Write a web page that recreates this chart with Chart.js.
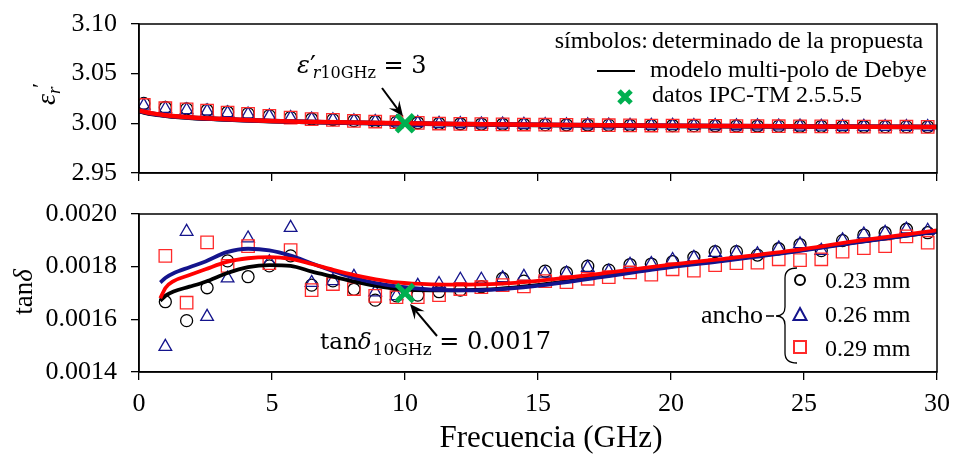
<!DOCTYPE html>
<html><head><meta charset="utf-8">
<script src="https://cdn.jsdelivr.net/npm/chart.js@4.4.0/dist/chart.umd.min.js"></script>
<style>
html,body{margin:0;padding:0;background:#fff;overflow:hidden;}
#wrap{position:relative;width:954px;height:454px;background:#fff;}
canvas{position:absolute;left:0;}
#c1{top:0;}
#c2{top:190px;}
</style></head><body>
<div id="wrap"><canvas id="c1" width="954" height="200"></canvas><canvas id="c2" width="954" height="264"></canvas></div>
<script>
// ---------- data ----------
const xTicks = [0, 5, 10, 15, 20, 25, 30];
const yTicksEps = [2.95, 3.00, 3.05, 3.10];
const yTicksTan = [0.0014, 0.0016, 0.0018, 0.0020];
const xTitle = 'Frecuencia (GHz)';

const freqSym = [0.18, 0.99, 1.79, 2.56, 3.33, 4.10, 4.90, 5.70, 6.49, 7.29, 8.08, 8.88, 9.68, 10.48, 11.28, 12.08, 12.87, 13.67, 14.47, 15.27, 16.07, 16.87, 17.66, 18.46, 19.26, 20.06, 20.86, 21.66, 22.46, 23.25, 24.05, 24.85, 25.65, 26.45, 27.25, 28.05, 28.85, 29.65];

const epsCircle = [3.0200, 3.0160, 3.0146, 3.0132, 3.0112, 3.0098, 3.0078, 3.0060, 3.0044, 3.0037, 3.0027, 3.0019, 3.0012, 3.0006, 2.9999, 2.9996, 2.9993, 2.9991, 2.9989, 2.9987, 2.9985, 2.9983, 2.9982, 2.9980, 2.9979, 2.9978, 2.9977, 2.9976, 2.9974, 2.9973, 2.9972, 2.9971, 2.9970, 2.9969, 2.9968, 2.9967, 2.9967, 2.9966];
const epsTriangle = [3.0180, 3.0146, 3.0134, 3.0122, 3.0103, 3.0091, 3.0072, 3.0055, 3.0040, 3.0033, 3.0023, 3.0016, 3.0009, 3.0004, 2.9997, 2.9994, 2.9991, 2.9989, 2.9987, 2.9985, 2.9983, 2.9981, 2.9980, 2.9978, 2.9977, 2.9976, 2.9975, 2.9974, 2.9972, 2.9971, 2.9970, 2.9969, 2.9968, 2.9967, 2.9966, 2.9965, 2.9965, 2.9964];
const epsSquare = [3.0185, 3.0152, 3.0140, 3.0128, 3.0108, 3.0095, 3.0075, 3.0058, 3.0042, 3.0035, 3.0025, 3.0018, 3.0011, 3.0005, 2.9998, 2.9995, 2.9992, 2.9990, 2.9988, 2.9986, 2.9984, 2.9982, 2.9981, 2.9979, 2.9978, 2.9977, 2.9976, 2.9975, 2.9973, 2.9972, 2.9971, 2.9970, 2.9969, 2.9968, 2.9967, 2.9966, 2.9966, 2.9965];

const tanCircle = [null, 0.001667, 0.001595, 0.001720, 0.001822, 0.001762, 0.001803, 0.001841, 0.001730, 0.001746, 0.001714, 0.001673, 0.001689, 0.001692, 0.001705, 0.001711, 0.001724, 0.001755, 0.001745, 0.001783, 0.001777, 0.001802, 0.001787, 0.001808, 0.001810, 0.001819, 0.001836, 0.001857, 0.001857, 0.001844, 0.001868, 0.001884, 0.001861, 0.001899, 0.001920, 0.001929, 0.001942, 0.001929];
const tanTriangle = [null, 0.001496, 0.001933, 0.001610, 0.001756, 0.001908, 0.001817, 0.001948, 0.001739, 0.001746, 0.001762, 0.001703, 0.001689, 0.001728, 0.001735, 0.001751, 0.001751, 0.001757, 0.001762, 0.001774, 0.001775, 0.001796, 0.001782, 0.001808, 0.001811, 0.001826, 0.001834, 0.001853, 0.001853, 0.001848, 0.001870, 0.001886, 0.001861, 0.001901, 0.001923, 0.001929, 0.001942, 0.001937];
const tanSquare = [null, 0.001841, 0.001663, 0.001892, 0.001803, 0.001878, 0.001813, 0.001863, 0.001711, 0.001734, 0.001715, 0.001689, 0.001684, 0.001684, 0.001692, 0.001715, 0.001722, 0.001730, 0.001725, 0.001745, 0.001741, 0.001754, 0.001760, 0.001778, 0.001770, 0.001790, 0.001785, 0.001806, 0.001813, 0.001815, 0.001828, 0.001825, 0.001828, 0.001857, 0.001870, 0.001878, 0.001915, 0.001891];

const freqModelEps = [0, 0.5, 1, 1.5, 2, 3, 4, 5, 6, 8, 10, 12, 15, 20, 25, 30];
const epsModel023 = [3.0122, 3.0094, 3.0077, 3.0064, 3.0054, 3.0042, 3.0031, 3.0022, 3.0015, 3.0006, 2.9999, 2.9992, 2.9984, 2.9974, 2.9968, 2.9963];
const epsModel026 = [3.0125, 3.0096, 3.0079, 3.0066, 3.0056, 3.0043, 3.0032, 3.0023, 3.0016, 3.0007, 2.9999, 2.9993, 2.9985, 2.9975, 2.9969, 2.9964];
const epsModel029 = [3.0130, 3.0100, 3.0082, 3.0068, 3.0058, 3.0045, 3.0033, 3.0024, 3.0017, 3.0008, 3.0000, 2.9993, 2.9985, 2.9975, 2.9969, 2.9964];

const freqModelTan = [0.8, 1.0, 1.3, 1.9, 2.5, 3.3, 4.1, 4.9, 5.7, 6.5, 7.3, 8.1, 8.9, 9.7, 11.0, 12.3, 13.5, 14.8, 16.0, 17.3, 18.6, 20.0, 22.0, 24.6, 27.0, 30.0];
const tanModel023 = [0.001670, 0.001690, 0.001706, 0.001724, 0.001743, 0.001775, 0.001798, 0.001806, 0.001803, 0.001781, 0.001762, 0.001743, 0.001727, 0.001716, 0.001710, 0.001711, 0.001716, 0.001728, 0.001743, 0.001762, 0.001781, 0.001801, 0.001825, 0.001858, 0.001893, 0.001933];
const tanModel026 = [0.001740, 0.001758, 0.001775, 0.001798, 0.001820, 0.001855, 0.001868, 0.001862, 0.001842, 0.001812, 0.001783, 0.001757, 0.001738, 0.001725, 0.001713, 0.001710, 0.001714, 0.001725, 0.001740, 0.001759, 0.001778, 0.001798, 0.001822, 0.001856, 0.001892, 0.001933];
const tanModel029 = [0.001680, 0.001720, 0.001745, 0.001768, 0.001790, 0.001818, 0.001832, 0.001836, 0.001830, 0.001810, 0.001788, 0.001768, 0.001752, 0.001740, 0.001733, 0.001732, 0.001735, 0.001744, 0.001757, 0.001773, 0.001790, 0.001808, 0.001830, 0.001862, 0.001898, 0.001938];

const ipcFreq = [10];
const ipcEps = [3.00];
const ipcTan = [0.0017];

const widthLabels = ['0.23 mm', '0.26 mm', '0.29 mm'];

// ---------- styles ----------
const SERIF = "'Liberation Serif', 'Times New Roman', serif";
const MATH = "'DejaVu Serif', serif";
const C_BLACK = '#000000', C_BLUE = '#14148c', C_RED = '#ff0000', C_SQ = '#ff2a2a', C_GREEN = '#00b050';

const pts = (xs, ys) => xs.map((x, i) => ({x: x, y: ys[i]})).filter(p => p.y !== null);

Chart.defaults.devicePixelRatio = 1;
Chart.defaults.animation = false;
Chart.defaults.font.family = SERIF;
Chart.defaults.color = '#000';

function symbolSets(ysC, ysT, ysS) {
  return [
    {type: 'scatter', data: pts(freqSym, ysS), pointStyle: 'rect', pointRadius: 8.8, borderColor: C_SQ, backgroundColor: 'rgba(0,0,0,0)', borderWidth: 1.3, showLine: false},
    {type: 'scatter', data: pts(freqSym, ysT), pointStyle: 'triangle', pointRadius: 7.3, borderColor: C_BLUE, backgroundColor: 'rgba(0,0,0,0)', borderWidth: 1.3, showLine: false},
    {type: 'scatter', data: pts(freqSym, ysC), pointStyle: 'circle', pointRadius: 6, borderColor: C_BLACK, backgroundColor: 'rgba(0,0,0,0)', borderWidth: 1.3, showLine: false}
  ];
}
function lineSet(xs, ys, color, w) {
  return {type: 'line', data: pts(xs, ys), borderColor: color, borderWidth: w, pointRadius: 0, fill: false, cubicInterpolationMode: 'monotone'};
}
function ipcSet(ys) {
  return {type: 'scatter', data: pts(ipcFreq, ys), pointStyle: 'crossRot', pointRadius: 12, borderColor: C_GREEN, backgroundColor: C_GREEN, borderWidth: 5, showLine: false};
}

function xScale(showLabels, h) {
  return {
    type: 'linear', min: 0, max: 30,
    afterBuildTicks: s => { s.ticks = xTicks.map(v => ({value: v})); },
    ticks: {display: showLabels, font: {size: 26, family: SERIF}, color: '#000', padding: 9, maxRotation: 0, callback: v => String(v)},
    grid: {display: true, drawOnChartArea: false, drawTicks: true, tickLength: 8, color: '#000', lineWidth: 1.3},
    border: {display: true, color: '#000', width: 1.5},
    title: {display: false},
    afterFit: s => { s.height = h; s.paddingLeft = 0; s.paddingRight = 0; }
  };
}
function yScale(min, max, tickArr, digits) {
  return {
    type: 'linear', min: min, max: max,
    afterBuildTicks: s => { s.ticks = tickArr.map(v => ({value: v})); },
    ticks: {font: {size: 26, family: SERIF}, color: '#000', padding: 14, callback: v => Number(v).toFixed(digits)},
    grid: {display: true, drawOnChartArea: false, drawTicks: true, tickLength: 8, color: '#000', lineWidth: 1.3},
    border: {display: true, color: '#000', width: 1.5},
    afterFit: s => { s.width = 139; s.paddingTop = 0; s.paddingBottom = 0; }
  };
}

const frame = {
  id: 'frame',
  afterDraw(chart) {
    const {ctx, chartArea: a} = chart;
    ctx.save();
    ctx.strokeStyle = '#000'; ctx.lineWidth = 1.5;
    ctx.strokeRect(a.left, a.top, a.right - a.left, a.bottom - a.top);
    ctx.restore();
  }
};

function arrow(ctx, x1, y1, x2, y2) {
  const ang = Math.atan2(y2 - y1, x2 - x1);
  const L = 15, W = 6.5;
  const c = Math.cos(ang), s = Math.sin(ang);
  ctx.save();
  ctx.strokeStyle = '#000'; ctx.fillStyle = '#000'; ctx.lineWidth = 2;
  ctx.beginPath(); ctx.moveTo(x1, y1); ctx.lineTo(x2 - c * L * 0.6, y2 - s * L * 0.6); ctx.stroke();
  ctx.beginPath();
  ctx.moveTo(x2, y2);
  ctx.lineTo(x2 - c * L - s * W, y2 - s * L + c * W);
  ctx.lineTo(x2 - c * L * 0.6, y2 - s * L * 0.6);
  ctx.lineTo(x2 - c * L + s * W, y2 - s * L - c * W);
  ctx.closePath(); ctx.fill();
  ctx.restore();
}

// draw a sequence of text runs; each run: [text, font, dy, extraGap]
function runs(ctx, list, x, y) {
  let cx = x;
  list.forEach(r => {
    ctx.font = r[1];
    ctx.fillText(r[0], cx, y + (r[2] || 0));
    cx += ctx.measureText(r[0]).width + (r[3] || 0);
  });
  return cx;
}
function runsWidth(ctx, list) {
  let w = 0;
  list.forEach(r => { ctx.font = r[1]; w += ctx.measureText(r[0]).width + (r[3] || 0); });
  return w;
}

const topDecor = {
  id: 'topDecor',
  afterDraw(chart) {
    const ctx = chart.ctx;
    const xs = chart.scales.x, ys = chart.scales.y;
    ctx.save();
    ctx.fillStyle = '#000'; ctx.textBaseline = 'alphabetic';
    // y title: epsilon'_r (rotated)
    ctx.save();
    ctx.translate(55, 94);
    ctx.rotate(-Math.PI / 2);
    const yt = [['\u03b5', 'italic 28px ' + SERIF, 0, 0], ['r', 'italic 19px ' + SERIF, 5, -1], ['\u2032', '22px ' + SERIF, -8, 0]];
    const tw = runsWidth(ctx, yt);
    runs(ctx, yt, -tw / 2, 0);
    ctx.restore();

    // legend
    ctx.font = '24px ' + SERIF;
    ctx.textAlign = 'right';
    ctx.fillText('s\u00edmbolos:', 648, 48);
    ctx.textAlign = 'left';
    ctx.fillText('determinado de la propuesta', 652, 48);
    ctx.fillText('modelo multi-polo de Debye', 650, 77);
    ctx.fillText('datos IPC-TM 2.5.5.5', 652, 102);
    ctx.strokeStyle = '#000'; ctx.lineWidth = 2;
    ctx.beginPath(); ctx.moveTo(597, 71); ctx.lineTo(635, 71); ctx.stroke();
    ctx.strokeStyle = C_GREEN; ctx.lineWidth = 5;
    ctx.beginPath(); ctx.moveTo(619, 91); ctx.lineTo(631, 103); ctx.moveTo(631, 91); ctx.lineTo(619, 103); ctx.stroke();

    // annotation
    ctx.fillStyle = '#000';
    runs(ctx, [['\u03b5', 'italic 24px ' + MATH, 0, 0], ['\u2032', '26px ' + MATH, 1, -3], ['r', 'italic 16px ' + MATH, 5, 0], ['10GHz', '16px ' + MATH, 5, 0], [' = 3', '24px ' + MATH, 0, 0]], 297, 73);
    const px = xs.getPixelForValue(ipcFreq[0]), py = ys.getPixelForValue(ipcEps[0]);
    arrow(ctx, 382, 88, px - 2, py - 7);
    ctx.restore();
  }
};

const botDecor = {
  id: 'botDecor',
  afterDraw(chart) {
    const ctx = chart.ctx;
    const xs = chart.scales.x, ys = chart.scales.y;
    const o = -190; // page->canvas y offset
    ctx.save();
    ctx.fillStyle = '#000'; ctx.textBaseline = 'alphabetic';
    // x title
    ctx.font = '31px ' + SERIF;
    ctx.textAlign = 'center';
    ctx.fillText(xTitle, 551, 447 + o);
    ctx.textAlign = 'left';
    // y title tan delta
    ctx.save();
    ctx.translate(32, 292 + o);
    ctx.rotate(-Math.PI / 2);
    const yt = [['tan', '27px ' + SERIF, 0, 0], ['\u03b4', 'italic 27px ' + SERIF, 0, 0]];
    const tw = runsWidth(ctx, yt);
    runs(ctx, yt, -tw / 2, 0);
    ctx.restore();

    // annotation tan delta 10GHz = 0.0017
    runs(ctx, [['tan', '23px ' + MATH, 0, 0], ['\u03b4', 'italic 23px ' + MATH, 0, 1], ['10GHz', '17px ' + MATH, 6, 0], [' = 0.0017', '24px ' + MATH, 0, 0]], 320, 349 + o);
    const px = xs.getPixelForValue(ipcFreq[0]), py = ys.getPixelForValue(ipcTan[0]);
    arrow(ctx, 437, 336 + o, px + 5, py + 11);

    // width legend with brace
    ctx.font = '26px ' + SERIF;
    ctx.textAlign = 'right';
    ctx.fillText('ancho', 763, 323 + o);
    ctx.textAlign = 'left';
    ctx.strokeStyle = '#000'; ctx.lineWidth = 1.3;
    ctx.beginPath();
    ctx.moveTo(766, 316 + o); ctx.lineTo(774, 316 + o);
    ctx.moveTo(797, 268 + o);
    ctx.quadraticCurveTo(785, 268 + o, 785, 278 + o);
    ctx.lineTo(785, 307 + o);
    ctx.quadraticCurveTo(785, 316 + o, 776, 316 + o);
    ctx.quadraticCurveTo(785, 316 + o, 785, 325 + o);
    ctx.lineTo(785, 353 + o);
    ctx.quadraticCurveTo(785, 363 + o, 797, 363 + o);
    ctx.stroke();

    ctx.font = '24px ' + SERIF;
    ctx.fillText(widthLabels[0], 825, 288 + o);
    ctx.fillText(widthLabels[1], 825, 322 + o);
    ctx.fillText(widthLabels[2], 825, 356 + o);
    ctx.lineWidth = 2;
    ctx.strokeStyle = C_BLACK;
    ctx.beginPath(); ctx.arc(800, 280 + o, 5, 0, Math.PI * 2); ctx.stroke();
    ctx.strokeStyle = C_BLUE;
    ctx.beginPath(); ctx.moveTo(800, 308 + o); ctx.lineTo(806.5, 320 + o); ctx.lineTo(793.5, 320 + o); ctx.closePath(); ctx.stroke();
    ctx.strokeStyle = C_SQ;
    ctx.strokeRect(794, 341 + o, 12, 12);
    ctx.restore();
  }
};

new Chart(document.getElementById('c1'), {
  data: {datasets: [
    ipcSet(ipcEps),
    lineSet(freqModelEps, epsModel029, C_RED, 4.5),
    lineSet(freqModelEps, epsModel026, C_BLUE, 4.5),
    lineSet(freqModelEps, epsModel023, C_BLACK, 4.5),
    ...symbolSets(epsCircle, epsTriangle, epsSquare)
  ]},
  options: {
    responsive: false, animation: false, devicePixelRatio: 1,
    layout: {padding: {top: 24, right: 17, bottom: 0, left: 0}},
    plugins: {legend: {display: false}, tooltip: {enabled: false}},
    scales: {x: xScale(false, 27), y: yScale(2.95, 3.10, yTicksEps, 2)}
  },
  plugins: [frame, topDecor]
});

new Chart(document.getElementById('c2'), {
  data: {datasets: [
    ipcSet(ipcTan),
    lineSet(freqModelTan, tanModel029, C_RED, 3.8),
    lineSet(freqModelTan, tanModel026, C_BLUE, 3.8),
    lineSet(freqModelTan, tanModel023, C_BLACK, 3.8),
    ...symbolSets(tanCircle, tanTriangle, tanSquare)
  ]},
  options: {
    responsive: false, animation: false, devicePixelRatio: 1,
    layout: {padding: {top: 24, right: 17, bottom: 0, left: 0}},
    plugins: {legend: {display: false}, tooltip: {enabled: false}},
    scales: {x: xScale(true, 82), y: yScale(0.0014, 0.0020, yTicksTan, 4)}
  },
  plugins: [frame, botDecor]
});
</script>
</body></html>
